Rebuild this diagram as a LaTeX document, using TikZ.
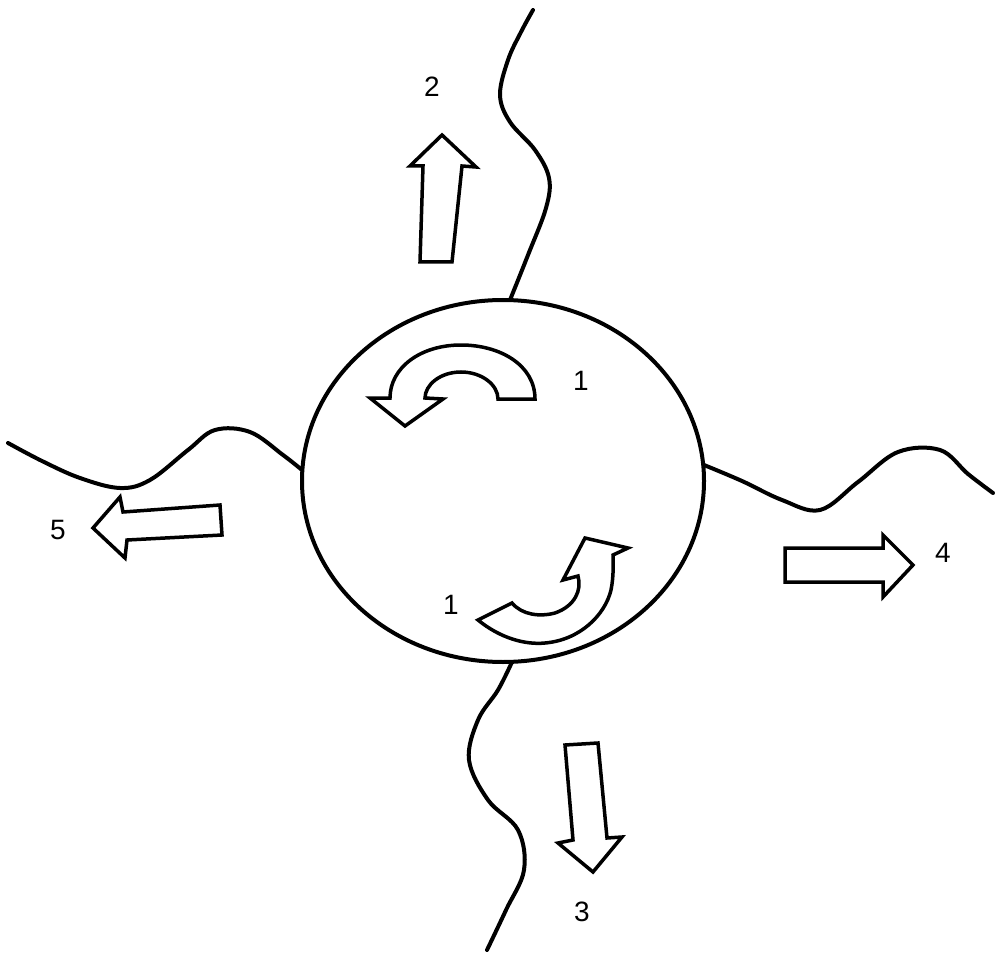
\documentclass[tikz,border=0pt]{standalone}
\usepackage{fontspec}
\setmainfont{Liberation Sans}
\begin{document}
\begin{tikzpicture}[x=1pt,y=-1pt,
  ink/.style={line width=4pt,line join=round,line cap=round},
  blockarrow/.style={line width=3.5pt,line join=miter,fill=white},
  lbl/.style={font=\fontsize{28}{28}\selectfont,inner sep=0pt}]
\useasboundingbox (0,0) rectangle (995,957);
% wavy boundaries
\draw[ink] plot[smooth,tension=0.6] coordinates {(510,300) (528,255) (546,208) (549,178) (535,150) (510,122) (500,95) (508,60) (521,32) (533,10)};
\draw[ink] plot[smooth,tension=0.6] coordinates {(512,662) (498,690) (478,720) (469,760) (488,800) (518,830) (524,870) (506,910) (487,950)};
\draw[ink] plot[smooth,tension=0.6] coordinates {(302,470) (283,455) (250,432) (215,430) (188,450) (150,480) (120,488) (80,478) (42,461) (8,443)};
\draw[ink] plot[smooth,tension=0.6] coordinates {(704,465) (742,481) (782,500) (820,510) (858,482) (898,452) (940,450) (968,474) (993,493)};
% cell
\draw[ink,fill=white] (503,481) ellipse [x radius=201, y radius=181];
% curved arrow top
\draw[blockarrow] (535,399) .. controls (535,365) and (500,345) .. (461,345)
  .. controls (420,345) and (390,368) .. (390,398) -- (370,398) -- (405,426) -- (443,399) -- (425,398)
  .. controls (425,385) and (440,372) .. (461,372)
  .. controls (482,372) and (498,385) .. (498,399) -- cycle;
% curved arrow bottom
\draw[blockarrow] (478,620) .. controls (500,638) and (525,645) .. (545,643)
  .. controls (580,640) and (605,615) .. (611,590)
  .. controls (614,575) and (613,562) .. (613,555) -- (628,548) -- (585,538) -- (563,580) -- (578,576)
  .. controls (582,590) and (575,606) .. (555,613)
  .. controls (540,617) and (522,615) .. (512,603) -- cycle;
% straight block arrows
\draw[blockarrow] (442,135) -- (476,167) -- (462,166) -- (452,262) -- (420,262) -- (423,166) -- (410,166) -- cycle;
\draw[blockarrow] (93,528) -- (120,497) -- (123,512) -- (220,505) -- (222,535) -- (127,540) -- (125,558) -- cycle;
\draw[blockarrow] (913,565) -- (883,535) -- (883,548) -- (785,548) -- (785,582) -- (883,582) -- (883,597) -- cycle;
\draw[blockarrow] (593,872) -- (622,837) -- (607,838) -- (598,743) -- (565,745) -- (573,840) -- (558,843) -- cycle;
% labels
\node[lbl] (l2) at (432,87) {2};
\node[lbl] (l1a) at (581,381) {1};
\node[lbl] (l1b) at (451,605) {1};
\node[lbl] (l5) at (58,530) {5};
\node[lbl] (l4) at (943,553) {4};
\node[lbl] (l3) at (582,912) {3};
\end{tikzpicture}
\end{document}
